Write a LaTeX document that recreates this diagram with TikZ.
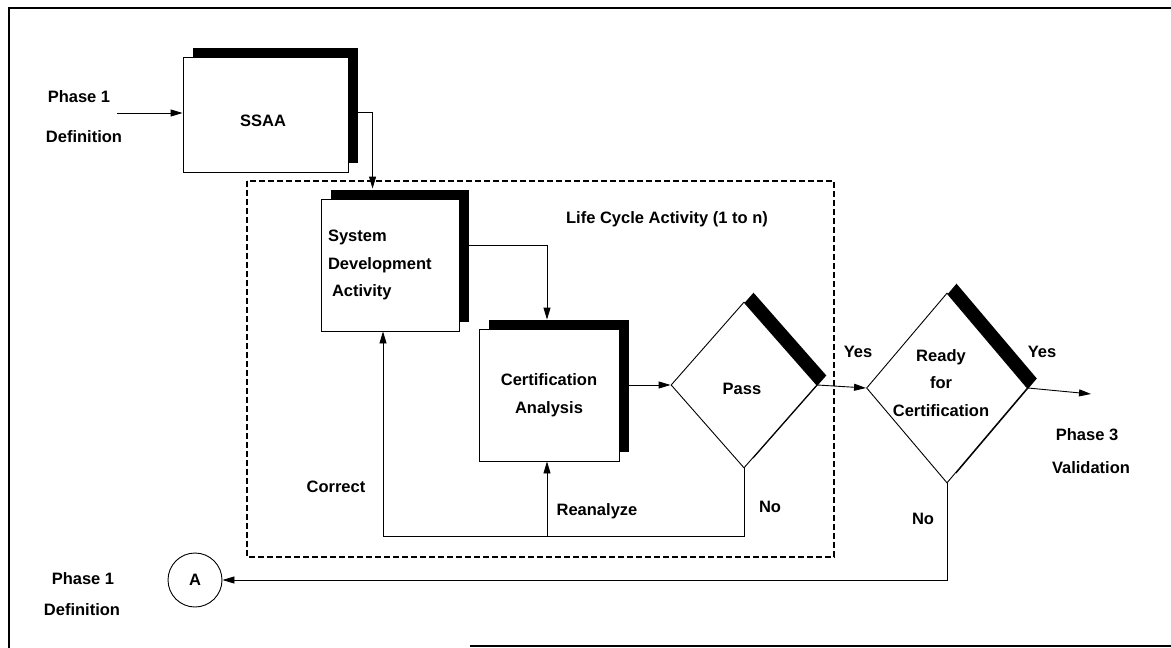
\documentclass[tikz,border=0pt]{standalone}
\usepackage{fontspec}
\setmainfont{Liberation Sans}
\usetikzlibrary{arrows.meta,shapes.geometric,shadows,calc}
\begin{document}
\begin{tikzpicture}[x=1pt,y=-1pt,
  font=\fontsize{16.5}{27.5}\selectfont\bfseries,
  shad/.style={drop shadow={shadow xshift=9.5pt, shadow yshift=9.5pt, opacity=1, fill=black}},
  box/.style={draw, line width=0.9pt, fill=white, rectangle, inner sep=0pt, shad},
  dia/.style={draw, line width=0.9pt, fill=white, diamond, inner sep=0pt, shad},
  arr/.style={line width=0.9pt, -{Triangle[length=12pt,width=7pt]}},
  plain/.style={line width=0.9pt},
  lbl/.style={inner sep=0pt, align=center}
]
\useasboundingbox (0,0) rectangle (1171,648);
% frame
\draw[line width=1.5pt] (1171,8) -- (9,8) -- (9,648);
\draw[line width=1.5pt] (470,646) -- (1171,646);

% life cycle boundary
\draw[line width=1.4pt, dash pattern=on 6pt off 3pt] (247,181) rectangle (834,557);
\node[lbl] (lc) at (667,219) {Life Cycle Activity (1 to n)};

% boxes
\node[box, minimum width=165pt, minimum height=115pt] (ssaa) at (265.5,114.5) {};
\node[lbl] (ssaat) at (263,121) {SSAA};
\node[box, minimum width=138pt, minimum height=132pt, text width=124pt, align=left] (sysdev) at (390,265) {System\\Development\\\hspace{4pt}Activity};
\node[box, minimum width=140pt, minimum height=132pt, align=center] (cert) at (549,395) {Certification\\Analysis};

% diamonds
\node[dia, minimum width=146pt, minimum height=166pt] (pass) at (744,385) {};
\node[lbl] (passt) at (742,389) {Pass};
\node[dia, minimum width=161pt, minimum height=190pt] (ready) at (947,388) {};
\node[lbl] (readyt) at (941,383) {Ready\\for\\Certification};

% connector A
\node[draw, circle, minimum size=54pt, inner sep=0pt, line width=0.9pt] (A) at (195,580) {A};

% side labels
\node[lbl] (p1a) at (79,97) {Phase 1};
\node[lbl] (p1b) at (84,137) {Definition};
\node[lbl] (p1c) at (83,579) {Phase 1};
\node[lbl] (p1d) at (82,610) {Definition};
\node[lbl] (p3a) at (1087,435) {Phase 3};
\node[lbl] (p3b) at (1091,468) {Validation};
\node[lbl] (yes1) at (858,352) {Yes};
\node[lbl] (yes2) at (1042,352) {Yes};
\node[lbl] (no1) at (770,507) {No};
\node[lbl] (no2) at (923,519) {No};
\node[lbl] (corr) at (336,487) {Correct};
\node[lbl] (rean) at (597,511) {Reanalyze};

% coordinates
\coordinate (inP) at (117,113);
\coordinate (outP) at (1091,394);
\coordinate (loopL) at (383,536);

% connectors
\draw[arr] (inP) -- (inP -| ssaa.west);
\draw[arr] ([xshift=9pt,yshift=2.5pt]ssaa.east) -| ([xshift=52pt,yshift=10pt]sysdev.north west);
\draw[arr] ([xshift=10pt,yshift=20pt]sysdev.east) -| ([xshift=-2pt,yshift=9pt]cert.north);
\draw[arr] ([xshift=9pt]cert.east |- pass.west) -- (pass.west);
\draw[arr] (pass.east) -- (ready.west);
\draw[arr] (ready.east) -- (outP);
\draw[arr] (pass.south) |- (loopL) -- (loopL |- sysdev.south);
\draw[arr] ([xshift=-2pt]cert.south |- loopL) -- ([xshift=-2pt]cert.south);
\draw[arr] (ready.south) |- (A.east);
\end{tikzpicture}
\end{document}
